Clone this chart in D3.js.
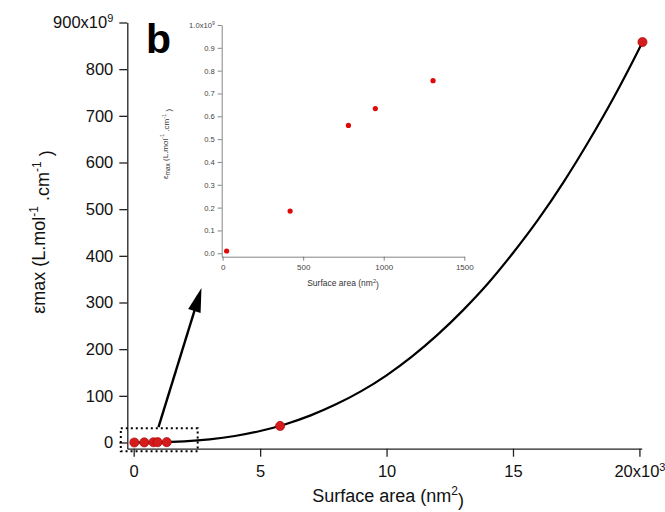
<!DOCTYPE html>
<html>
<head>
<meta charset="utf-8">
<script src="https://cdn.jsdelivr.net/npm/d3@7"></script>
<style>
  html, body { margin: 0; padding: 0; background: #fff; }
  svg { display: block; font-family: "Liberation Sans", Arial, sans-serif; }
</style>
</head>
<body>
<svg id="chart" width="665" height="512"></svg>
<script>
// ---- data (surface area in nm², epsilon max in 1e9 L.mol-1.cm-1) ----
const areas = [25, 419, 781, 948, 1306, 5790, 20120];
const epsMax = [0.01, 0.185, 0.56, 0.634, 0.756, 35.4, 858];
// fitted curve (area in 1e3 nm², eps in 1e9)
const fitArea = [0, 1, 2, 3, 4, 5, 6, 7, 8, 9, 10, 11, 12, 13, 14, 15, 16, 17, 18, 19, 20, 20.12];
const fitEps  = [0, 0.4, 2.4, 6.7, 13.9, 24.6, 39.2, 58.1, 81.7, 110, 144, 184, 230, 282, 340, 406, 478, 558, 646, 741, 845, 858];
// tick labels
const mainYTicks = [0, 100, 200, 300, 400, 500, 600, 700, 800, 900];
const mainXTicks = [0, 5, 10, 15, 20];
const insetYTicks = [0, 0.1, 0.2, 0.3, 0.4, 0.5, 0.6, 0.7, 0.8, 0.9, 1.0];
const insetXTicks = [0, 500, 1000, 1500];
const insetCount = 5;

const svg = d3.select("#chart");

// ---------------- main chart ----------------
const xMain = d3.scaleLinear().domain([-0.253, 20.09]).range([127.3, 641.7]);
const yMain = d3.scaleLinear().domain([-13.3, 900]).range([448.7, 22.5]);

const gx = svg.append("g").attr("transform", "translate(0,448.7)")
  .call(d3.axisBottom(xMain).tickValues(mainXTicks).tickSize(8).tickSizeOuter(0).tickPadding(9)
    .tickFormat(d => d === 20 ? "20x10" : String(d)));
gx.selectAll("text").attr("font-size", 16.5).attr("fill", "#111").attr("font-family", "Liberation Sans, Arial, sans-serif");
gx.selectAll("text").filter(d => d === 20).append("tspan").attr("dy", "-0.55em").attr("font-size", 11).text("3");
gx.selectAll("path,line").attr("stroke", "#222").attr("stroke-width", 1.3);

const gy = svg.append("g").attr("transform", "translate(127.3,0)")
  .call(d3.axisLeft(yMain).tickValues(mainYTicks).tickSize(8).tickSizeOuter(0).tickPadding(6)
    .tickFormat(d => d === 900 ? "900x10" : String(d)));
gy.selectAll("text").attr("font-size", 16.5).attr("fill", "#111").attr("font-family", "Liberation Sans, Arial, sans-serif");
gy.selectAll("text").filter(d => d === 900).append("tspan").attr("dy", "-0.55em").attr("font-size", 11).text("9");
gy.selectAll("path,line").attr("stroke", "#222").attr("stroke-width", 1.3);

// axis titles
svg.append("text").attr("x", 388).attr("y", 502).attr("text-anchor", "middle")
  .attr("font-size", 18).attr("fill", "#111")
  .call(t => {
    t.append("tspan").text("Surface area (nm");
    t.append("tspan").attr("dy", "-0.6em").attr("font-size", 12).text("2");
    t.append("tspan").attr("dy", "0.6em").text(")");
  });

svg.append("text").attr("transform", "translate(45,232) rotate(-90)").attr("text-anchor", "middle")
  .attr("font-size", 18).attr("fill", "#111")
  .call(t => {
    t.append("tspan").text("εmax (L.mol");
    t.append("tspan").attr("dy", "-0.6em").attr("font-size", 12).text("-1");
    t.append("tspan").attr("dy", "0.6em").text(" .cm");
    t.append("tspan").attr("dy", "-0.6em").attr("font-size", 12).text("-1");
    t.append("tspan").attr("dy", "0.6em").text(" )");
  });

// fitted curve
const fit = fitArea.map((a, i) => [a, fitEps[i]]);
svg.append("path").datum(fit)
  .attr("fill", "none").attr("stroke", "#000").attr("stroke-width", 2.2)
  .attr("d", d3.line().x(d => xMain(d[0])).y(d => yMain(d[1])).curve(d3.curveMonotoneX));

// main points
svg.append("g").selectAll("circle").data(areas.map((a, i) => [a / 1000, epsMax[i]]))
  .join("circle")
  .attr("cx", d => xMain(d[0])).attr("cy", d => yMain(d[1])).attr("r", 4.6)
  .attr("fill", "#d41c1c").attr("stroke", "#a80000").attr("stroke-width", 0.6);

// dotted zoom box
svg.append("rect")
  .attr("x", xMain(-0.51)).attr("y", yMain(30.4))
  .attr("width", xMain(2.53) - xMain(-0.51)).attr("height", yMain(-18.9) - yMain(30.4))
  .attr("fill", "none").attr("stroke", "#000").attr("stroke-width", 2).attr("stroke-dasharray", "2,3");

// arrow
const a0 = [xMain(0.98), yMain(33)], a1 = [xMain(2.68), yMain(331)];
const ang = Math.atan2(a1[1] - a0[1], a1[0] - a0[0]);
const headLen = 24, headW = 6.5;
const base = [a1[0] - headLen * Math.cos(ang), a1[1] - headLen * Math.sin(ang)];
svg.append("line").attr("x1", a0[0]).attr("y1", a0[1]).attr("x2", base[0] + 2 * Math.cos(ang)).attr("y2", base[1] + 2 * Math.sin(ang))
  .attr("stroke", "#000").attr("stroke-width", 2.4);
const px = -Math.sin(ang), py = Math.cos(ang);
svg.append("path")
  .attr("d", `M${a1[0]},${a1[1]}L${base[0] + px * headW},${base[1] + py * headW}L${base[0] - px * headW},${base[1] - py * headW}Z`)
  .attr("fill", "#000");

// panel letter
svg.append("text").attr("x", 146).attr("y", 53).attr("font-size", 41).attr("font-weight", "bold")
  .attr("fill", "#000").text("b");

// ---------------- inset ----------------
const xIn = d3.scaleLinear().domain([-5.6, 1500]).range([221.7, 464.3]);
const yIn = d3.scaleLinear().domain([-0.015, 1.0]).range([256.7, 25]);

const ix = svg.append("g").attr("transform", "translate(0,256.7)")
  .call(d3.axisBottom(xIn).tickValues(insetXTicks).tickSize(4).tickSizeOuter(0).tickPadding(4)
    .tickFormat(d3.format("d")));
ix.selectAll("text").attr("font-size", 8).attr("fill", "#444").attr("font-family", "Liberation Sans, Arial, sans-serif");
ix.selectAll("path,line").attr("stroke", "#666").attr("stroke-width", 0.8);

const iy = svg.append("g").attr("transform", "translate(221.7,0)")
  .call(d3.axisLeft(yIn).tickValues(insetYTicks).tickSize(4).tickSizeOuter(0).tickPadding(3)
    .tickFormat(d => d === 1 ? "1.0x10" : d3.format(".1f")(d)));
iy.selectAll("text").attr("font-size", 7.6).attr("fill", "#444").attr("font-family", "Liberation Sans, Arial, sans-serif");
iy.selectAll("text").filter(d => d === 1).append("tspan").attr("dy", "-0.5em").attr("font-size", 5).text("9");
iy.selectAll("path,line").attr("stroke", "#666").attr("stroke-width", 0.8);

svg.append("text").attr("x", 343).attr("y", 286).attr("text-anchor", "middle")
  .attr("font-size", 8.5).attr("fill", "#333")
  .call(t => {
    t.append("tspan").text("Surface area (nm");
    t.append("tspan").attr("dy", "-0.6em").attr("font-size", 5.5).text("2");
    t.append("tspan").attr("dy", "0.6em").text(")");
  });

svg.append("text").attr("transform", "translate(168,144) rotate(-90)").attr("text-anchor", "middle")
  .attr("font-size", 8).attr("fill", "#333")
  .call(t => {
    t.append("tspan").text("ε");
    t.append("tspan").attr("dy", "0.3em").attr("font-size", 6.5).text("max");
    t.append("tspan").attr("dy", "-0.3em").text(" (L.mol");
    t.append("tspan").attr("dy", "-0.6em").attr("font-size", 5.5).text("-1");
    t.append("tspan").attr("dy", "0.6em").text(" .cm");
    t.append("tspan").attr("dy", "-0.6em").attr("font-size", 5.5).text("-1");
    t.append("tspan").attr("dy", "0.6em").text(" )");
  });

svg.append("g").selectAll("circle").data(areas.slice(0, insetCount).map((a, i) => [a, epsMax[i]]))
  .join("circle")
  .attr("cx", d => xIn(d[0])).attr("cy", d => yIn(d[1])).attr("r", 2.6)
  .attr("fill", "#dd0a0a");
</script>
</body>
</html>
